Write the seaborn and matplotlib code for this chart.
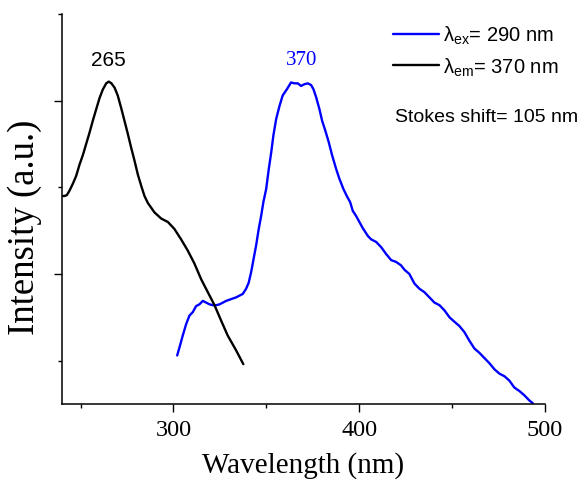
import numpy as np
import pandas as pd
import matplotlib
matplotlib.use("Agg")
import matplotlib.pyplot as plt
import seaborn as sns
from matplotlib.ticker import FixedLocator

# ---- data ----
# black curve: excitation spectrum monitored at 370 nm
em_wl = [240.1, 241.3, 242.6, 244.0, 245.8, 247.6, 249.4, 251.2, 253.0, 254.8,
         256.6, 258.4, 260.2, 262.0, 263.8, 265.2, 266.6, 268.3, 270.0, 271.8,
         273.6, 275.4, 277.2, 279.0, 280.8, 282.6, 284.4, 286.2, 289.8, 293.4,
         297.0, 300.5, 304.1, 307.7, 311.3, 314.9, 318.5, 322.1, 325.7, 329.2,
         333.7, 337.6]
em_int = [1.90, 1.90, 1.91, 1.96, 2.04, 2.13, 2.26, 2.37, 2.50, 2.63,
          2.77, 2.90, 3.03, 3.13, 3.20, 3.22, 3.20, 3.15, 3.06, 2.92,
          2.77, 2.62, 2.46, 2.31, 2.15, 2.02, 1.90, 1.82, 1.71, 1.64,
          1.60, 1.52, 1.40, 1.27, 1.12, 0.94, 0.79, 0.64, 0.46, 0.29,
          0.12, -0.04]

# blue curve: emission spectrum excited at 290 nm
ex_wl = [302.0, 303.2, 305.0, 306.8, 308.6, 310.4, 312.2, 314.0, 315.8, 317.6,
         319.4, 321.2, 323.0, 324.8, 326.6, 328.4, 331.0, 333.7, 335.5, 337.3,
         339.1, 340.5, 341.8, 343.1, 344.5, 345.9, 347.2, 348.4, 349.9, 351.3,
         352.6, 353.8, 355.3, 357.1, 358.8, 361.0, 363.3, 365.1, 366.9, 368.7,
         370.5, 372.3, 374.1, 375.4, 376.8, 378.6, 380.0, 381.8, 383.6, 385.4,
         387.6, 389.3, 391.5, 393.3, 395.1, 396.5, 398.3, 400.1, 401.9, 404.6,
         406.4, 409.1, 411.8, 414.5, 417.2, 419.8, 422.5, 424.3, 427.0, 429.7,
         432.4, 435.1, 437.8, 440.5, 443.2, 445.9, 448.6, 451.2, 453.9, 456.6,
         459.3, 462.0, 464.7, 467.4, 470.1, 472.8, 475.5, 478.2, 480.8, 483.5,
         486.2, 488.9, 491.6, 493.4]
ex_int = [0.06, 0.15, 0.29, 0.42, 0.52, 0.56, 0.63, 0.65, 0.69, 0.67,
          0.65, 0.64, 0.64, 0.65, 0.67, 0.69, 0.71, 0.73, 0.75, 0.77,
          0.83, 0.90, 1.02, 1.17, 1.33, 1.52, 1.67, 1.83, 1.98, 2.21,
          2.40, 2.60, 2.79, 2.94, 3.06, 3.13, 3.21, 3.20, 3.20, 3.17,
          3.19, 3.20, 3.18, 3.13, 3.04, 2.90, 2.77, 2.65, 2.52, 2.37,
          2.21, 2.10, 1.98, 1.90, 1.83, 1.73, 1.67, 1.60, 1.53, 1.44,
          1.40, 1.37, 1.31, 1.23, 1.16, 1.14, 1.10, 1.05, 1.00, 0.89,
          0.83, 0.79, 0.73, 0.67, 0.64, 0.58, 0.50, 0.45, 0.40, 0.33,
          0.23, 0.14, 0.09, 0.03, -0.03, -0.10, -0.15, -0.18, -0.23, -0.31,
          -0.35, -0.40, -0.46, -0.49]

x_major = [300, 400, 500]
x_minor = [250, 350, 450]
y_major = [1, 3]
y_minor = [0, 2, 4]

ex_label = "λ$_{\\mathrm{ex}}$= 290 nm"
em_label = "λ$_{\\mathrm{em}}$= 370 nm"
peak_em = "265"
peak_ex = "370"
stokes = "Stokes shift= 105 nm"

# ---- style ----
sns.set_theme(style="ticks")
plt.rcParams["font.family"] = ["Liberation Serif", "DejaVu Serif"]
plt.rcParams["mathtext.fontset"] = "custom"
plt.rcParams["mathtext.rm"] = "Liberation Sans"
plt.rcParams["mathtext.it"] = "Liberation Sans:italic"

W, H = 587, 485
fig = plt.figure(figsize=(W / 100, H / 100), dpi=100)
L, R, T, B = 62, 545, 15, 405
ax = fig.add_axes([L / W, 1 - B / H, (R - L) / W, (B - T) / H])

df_ex = pd.DataFrame({"wl": ex_wl, "I": ex_int})
df_em = pd.DataFrame({"wl": em_wl, "I": em_int})

sns.lineplot(data=df_ex, x="wl", y="I", ax=ax, color="#0000FF", lw=1.7,
             label=ex_label, sort=False)
sns.lineplot(data=df_em, x="wl", y="I", ax=ax, color="black", lw=1.7,
             label=em_label, sort=False)

ax.set_xlim(240, 500)
ax.set_ylim(-0.5, 4.0)
ax.xaxis.set_major_locator(FixedLocator(x_major))
ax.xaxis.set_minor_locator(FixedLocator(x_minor))
ax.yaxis.set_major_locator(FixedLocator(y_major))
ax.yaxis.set_minor_locator(FixedLocator(y_minor))
ax.set_yticklabels([])
ax.tick_params(axis="both", which="major", direction="out", length=6, width=1.0,
               labelsize=17.5, pad=5, color="black", labelcolor="black")
ax.tick_params(axis="both", which="minor", direction="out", length=3, width=1.0,
               color="black")
for s in ["top", "right"]:
    ax.spines[s].set_visible(False)
for s in ["left", "bottom"]:
    ax.spines[s].set_linewidth(1.1)
    ax.spines[s].set_color("black")

ax.set_xlabel("Wavelength (nm)", fontsize=21, color="black", labelpad=8)
ax.set_ylabel("Intensity (a.u.)", fontsize=26.5, color="black")
ax.yaxis.set_label_coords(-0.077, 0.455)
ax.yaxis.label.set_va("center")

ax.text(264.7, 3.47, peak_em, fontsize=15, family="Liberation Sans",
        ha="center", va="center", color="black")
ax.text(369.2, 3.47, peak_ex, fontsize=15, family="Liberation Serif",
        ha="center", va="center", color="#0000FF")

leg = ax.legend(loc="upper left", bbox_to_anchor=(393 / W, 1 - 25 / H),
                bbox_transform=fig.transFigure, frameon=False,
                borderaxespad=0, borderpad=0, handlelength=2.3,
                handletextpad=0.2, labelspacing=0.45,
                prop={"family": "Liberation Sans", "size": 14.5})
for t in leg.get_texts():
    t.set_color("black")

fig.text(395 / W, 1 - 117 / H, stokes, fontsize=14, family="Liberation Sans",
         ha="left", va="center", color="black")

fig.savefig("out.png", dpi=100)
